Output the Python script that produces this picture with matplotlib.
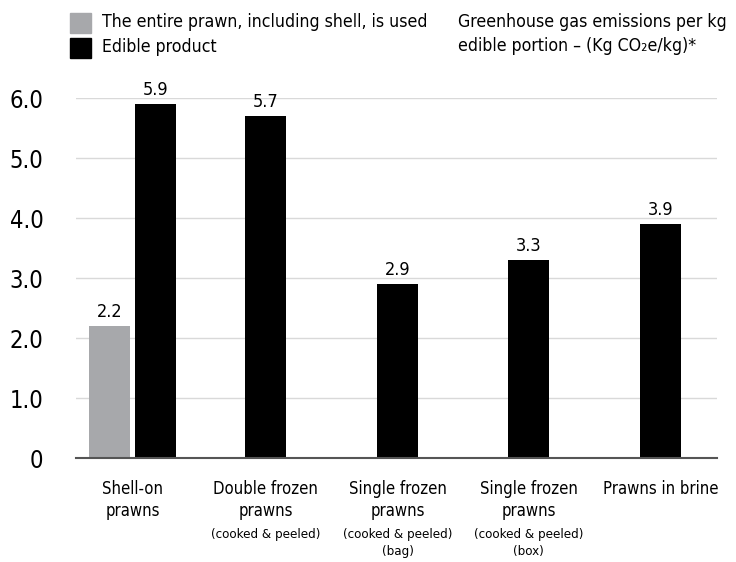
import matplotlib
matplotlib.use("Agg")
import matplotlib.pyplot as plt
from matplotlib.patches import Rectangle

plt.rcParams['font.family'] = ['DejaVu Sans']
plt.rcParams['font.stretch'] = 'condensed'

# data
categories = ["Shell-on\nprawns", "Double frozen\nprawns", "Single frozen\nprawns",
              "Single frozen\nprawns", "Prawns in brine"]
notes = ["", "(cooked & peeled)", "(cooked & peeled)\n(bag)", "(cooked & peeled)\n(box)", ""]
whole_prawn = [2.2, None, None, None, None]
edible = [5.9, 5.7, 2.9, 3.3, 3.9]
yticks = [0, 1, 2, 3, 4, 5, 6]
ytick_labels = ["0", "1.0", "2.0", "3.0", "4.0", "5.0", "6.0"]

GREY = "#a7a8ab"
W, H = 736, 562
fig = plt.figure(figsize=(W / 100, H / 100), dpi=100)
# axes placed in pixel units: x 76..717, y 98..458 (from top)
ax = fig.add_axes([76 / W, 1 - 458 / H, (717 - 76) / W, (458 - 98) / H])
ax.set_xlim(76, 717)
ax.set_ylim(0, 6)

bar_w = 41
black_x = [155.5, 265.5, 397.5, 528.5, 660.5]
grey_x = [109.5, None, None, None, None]

for i, v in enumerate(edible):
    ax.bar(black_x[i], v, width=bar_w, color="black", zorder=3)
    ax.text(black_x[i], v + 0.09, f"{v:.1f}", ha="center", va="bottom",
            fontsize=13, fontstretch="condensed", clip_on=False)
for i, v in enumerate(whole_prawn):
    if v is None:
        continue
    ax.bar(grey_x[i], v, width=bar_w, color=GREY, zorder=3)
    ax.text(grey_x[i], v + 0.09, f"{v:.1f}", ha="center", va="bottom",
            fontsize=13, fontstretch="condensed", clip_on=False)

ax.set_yticks(yticks)
ax.set_yticklabels(ytick_labels, fontsize=17, fontstretch="condensed")
ax.tick_params(axis="y", length=0, pad=23.5)
ax.set_xticks([])
ax.grid(axis="y", color="#d9d9d9", linewidth=1, zorder=0)
for s in ["top", "right", "left"]:
    ax.spines[s].set_visible(False)
ax.spines["bottom"].set_color("#555555")
ax.spines["bottom"].set_linewidth(1.5)
ax.spines["bottom"].set_zorder(4)

# category labels under the axis
label_x = [132.5] + black_x[1:]
for x, name, note in zip(label_x, categories, notes):
    xf = x / W
    fig.text(xf, 1 - 480 / H, name, ha="center", va="top", fontsize=12,
             linespacing=1.3)
    if note:
        fig.text(xf, 1 - 528 / H, note, ha="center", va="top", fontsize=9.5,
                 linespacing=1.45)

# legend
fig.patches.append(Rectangle((70 / W, 1 - 33 / H), 21 / W, 20 / H,
                             transform=fig.transFigure, color=GREY))
fig.patches.append(Rectangle((70 / W, 1 - 58 / H), 21 / W, 20 / H,
                             transform=fig.transFigure, color="black"))
fig.text(102 / W, 1 - 22 / H, "The entire prawn, including shell, is used",
         va="center", fontsize=12.7)
fig.text(102 / W, 1 - 47 / H, "Edible product", va="center", fontsize=12.7)

fig.text(458 / W, 1 - 22 / H, "Greenhouse gas emissions per kg",
         va="center", fontsize=12.7)
fig.text(458 / W, 1 - 46 / H, "edible portion – (Kg CO₂e/kg)*",
         va="center", fontsize=12.7)

fig.savefig("out.png", dpi=100)
